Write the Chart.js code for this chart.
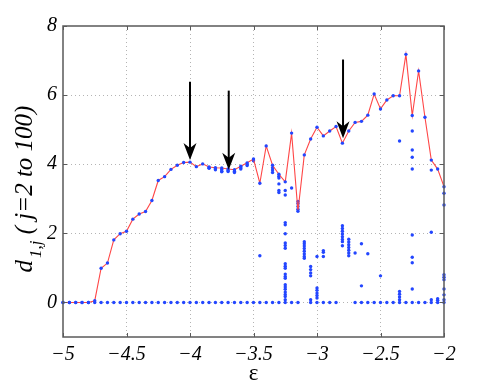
<!DOCTYPE html>
<html><head><meta charset="utf-8">
<script src="https://cdn.jsdelivr.net/npm/chart.js@4"></script>
<style>html,body{margin:0;padding:0;background:#fff}</style>
</head><body>
<canvas id="c" width="491" height="382"></canvas>
<script>
// ---- data ----
const epsilon = [-5.00,-4.95,-4.90,-4.85,-4.80,-4.75,-4.70,-4.65,-4.60,-4.55,-4.50,-4.45,-4.40,-4.35,-4.30,-4.25,-4.20,-4.15,-4.10,-4.05,-4.00,-3.95,-3.90,-3.85,-3.80,-3.75,-3.70,-3.65,-3.60,-3.55,-3.50,-3.45,-3.40,-3.35,-3.30,-3.25,-3.20,-3.15,-3.10,-3.05,-3.00,-2.95,-2.90,-2.85,-2.80,-2.75,-2.70,-2.65,-2.60,-2.55,-2.50,-2.45,-2.40,-2.35,-2.30,-2.25,-2.20,-2.15,-2.10,-2.05,-2.00];
const maxD = [0,0,0,0,0,0.05,0.99,1.14,1.81,1.99,2.06,2.41,2.56,2.63,2.95,3.53,3.64,3.85,3.97,4.05,4.06,3.93,4.01,3.92,3.90,3.89,3.86,3.84,3.94,4.04,4.15,3.45,4.53,3.97,3.71,3.49,4.90,2.64,4.27,4.73,5.07,4.82,4.96,5.09,4.61,4.96,5.21,5.24,5.42,6.03,5.60,5.86,5.98,5.98,7.18,5.41,6.70,5.36,4.12,3.86,3.35];
const zeroEps = [-5.00,-4.95,-4.90,-4.85,-4.80,-4.75,-4.70,-4.65,-4.60,-4.55,-4.50,-4.45,-4.40,-4.35,-4.30,-4.25,-4.20,-4.15,-4.10,-4.05,-4.00,-3.95,-3.90,-3.85,-3.80,-3.75,-3.70,-3.65,-3.60,-3.55,-3.50,-3.45,-3.40,-3.35,-3.30,-3.25,-3.20,-3.15,-3.05,-3.00,-2.95,-2.90,-2.85,-2.70,-2.65,-2.60,-2.55,-2.50,-2.45,-2.40,-2.35,-2.30,-2.25,-2.20,-2.15,-2.10,-2.05,-2.00];
const spreadEps = [
 -3.85,-3.85,-3.80,-3.80,-3.75,-3.75,-3.75,-3.70,-3.70,-3.65,-3.65,-3.60,-3.60,-3.55,-3.55,-3.50,
 -3.45,-3.35,-3.35,-3.35,-3.30,-3.30,-3.30,-3.30,-3.30,
 -3.25,-3.25,-3.25,-3.25,-3.25,-3.25,-3.25,-3.25,-3.25,-3.25,-3.25,-3.25,-3.25,-3.25,-3.25,-3.25,-3.25,-3.25,-3.25,-3.25,-3.25,
 -3.20,-3.15,-3.15,-3.15,-3.15,
 -3.10,-3.10,-3.10,-3.10,-3.10,-3.10,-3.10,-3.10,
 -3.05,-3.05,-3.05,-3.05,-3.05,
 -3.00,-3.00,-3.00,-3.00,-3.00,-3.00,
 -2.95,-2.95,-2.95,
 -2.80,-2.80,-2.80,-2.80,-2.80,-2.80,-2.80,-2.80,
 -2.75,-2.75,-2.75,-2.75,-2.75,-2.75,-2.75,
 -2.70,-2.65,-2.65,-2.60,-2.50,
 -2.35,-2.35,-2.35,-2.35,-2.35,
 -2.25,-2.25,-2.25,-2.25,-2.25,-2.25,-2.25,-2.25,
 -2.10,-2.10,-2.10,-2.05,-2.05,
 -2.00,-2.00,-2.00,-2.00,-2.00,-2.00,-2.00,-2.00];
const spreadD = [
 3.90,3.88,3.87,3.84,3.85,3.80,3.78,3.82,3.79,3.80,3.76,3.90,3.86,4.00,3.96,4.10,
 1.35,3.90,3.83,3.76,3.65,3.60,3.43,3.24,3.18,
 3.24,3.11,2.31,2.25,1.99,1.72,1.65,1.57,1.12,1.05,0.99,0.82,0.75,0.70,0.51,0.45,0.38,0.30,0.23,0.17,0.08,
 3.31,2.70,2.78,2.86,2.92,
 1.76,1.70,1.63,1.56,1.48,1.40,1.33,1.28,
 1.04,0.95,0.85,0.77,0.08,
 1.33,0.42,0.35,0.27,0.20,0.13,
 1.50,1.45,1.33,
 2.22,2.14,2.06,1.98,1.90,1.82,1.76,1.64,
 1.83,1.75,1.67,1.59,1.51,1.43,1.35,
 1.43,1.70,0.48,1.41,0.77,
 4.67,0.32,0.24,0.16,0.08,
 4.96,4.41,4.20,3.86,1.95,1.31,1.15,0.39,
 3.83,2.03,0.08,0.11,0.06,
 3.16,2.82,0.80,0.73,0.66,0.39,0.22,0.08];
const arrowEps = [-4.00,-3.695,-2.795];
const arrowTop = [6.39,6.13,7.03];
const arrowTip = [4.12,3.84,4.75];
const xTicks = [-5,-4.5,-4,-3.5,-3,-2.5,-2];
const yTicks = [0,2,4,6,8];

const BLUE = 'rgb(35,70,255)';
const RED = 'rgb(255,70,70)';
const SERIF = '"Liberation Serif","DejaVu Serif",serif';

const extras = {
  id: 'extras',
  afterDraw(chart) {
    const {ctx, chartArea: a, scales: {x, y}} = chart;
    ctx.save();
    // box
    ctx.strokeStyle = '#5a5a5a';
    ctx.lineWidth = 1.5;
    ctx.strokeRect(a.left, a.top, a.right - a.left, a.bottom - a.top);
    // inner tick marks
    ctx.lineWidth = 1;
    ctx.beginPath();
    xTicks.forEach(v => {
      const px = Math.round(x.getPixelForValue(v)) + 0.5;
      ctx.moveTo(px, a.bottom); ctx.lineTo(px, a.bottom - 4);
      ctx.moveTo(px, a.top); ctx.lineTo(px, a.top + 4);
    });
    yTicks.forEach(v => {
      const py = Math.round(y.getPixelForValue(v)) + 0.5;
      ctx.moveTo(a.left, py); ctx.lineTo(a.left + 4, py);
      ctx.moveTo(a.right, py); ctx.lineTo(a.right - 4, py);
    });
    ctx.stroke();
    // arrows
    ctx.fillStyle = '#000';
    ctx.strokeStyle = '#000';
    arrowEps.forEach((e, i) => {
      const px = x.getPixelForValue(e);
      const pt = y.getPixelForValue(arrowTop[i]);
      const pb = y.getPixelForValue(arrowTip[i]);
      ctx.lineWidth = 2;
      ctx.beginPath();
      ctx.moveTo(px, pt); ctx.lineTo(px, pb - 8);
      ctx.stroke();
      ctx.beginPath();
      ctx.moveTo(px, pb);
      ctx.lineTo(px - 6.5, pb - 17);
      ctx.lineTo(px, pb - 12);
      ctx.lineTo(px + 6.5, pb - 17);
      ctx.closePath();
      ctx.fill();
    });
    // x title
    ctx.fillStyle = '#000';
    ctx.font = '23px ' + SERIF;
    ctx.textAlign = 'center';
    ctx.textBaseline = 'alphabetic';
    ctx.fillText('ε', (a.left + a.right) / 2, 380);
    // y title with subscript
    ctx.translate(32, 190);
    ctx.rotate(-Math.PI / 2);
    const mainF = 'italic 25px ' + SERIF;
    const subF = 'italic 17px ' + SERIF;
    ctx.font = mainF; const w1 = ctx.measureText('d').width;
    ctx.font = subF; const w2 = ctx.measureText('1,j').width;
    ctx.font = mainF; const w3 = ctx.measureText(' ( j=2 to 100)').width;
    let sx = -(w1 + w2 + w3) / 2;
    ctx.textAlign = 'left';
    ctx.font = mainF; ctx.fillText('d', sx, 0); sx += w1 + 2;
    ctx.font = subF; ctx.fillText('1,j', sx, 9); sx += w2;
    ctx.font = mainF; ctx.fillText(' ( j=2 to 100)', sx, 0);
    ctx.restore();
  }
};

const gridColor = (edgeVals) => (c) => edgeVals.includes(c.tick.value) ? 'rgba(0,0,0,0)' : '#b4b4b4';

new Chart(document.getElementById('c'), {
  type: 'scatter',
  data: {
    datasets: [
      { label: 'max', type: 'line', data: epsilon.map((e, i) => ({x: e, y: maxD[i]})),
        borderColor: RED, borderWidth: 1.1, pointRadius: 1.7, pointBackgroundColor: BLUE,
        pointBorderWidth: 0, tension: 0, clip: false, showLine: true },
      { label: 'spread', data: spreadEps.map((e, i) => ({x: e, y: spreadD[i]})),
        pointRadius: 1.7, pointBackgroundColor: BLUE, pointBorderWidth: 0, clip: false },
      { label: 'zero', data: zeroEps.map(e => ({x: e, y: 0})),
        pointRadius: 1.7, pointBackgroundColor: BLUE, pointBorderWidth: 0, clip: false }
    ]
  },
  options: {
    responsive: false,
    animation: false,
    events: [],
    layout: { padding: { left: 0, right: 47, top: 26, bottom: 0 } },
    plugins: { legend: { display: false }, tooltip: { enabled: false } },
    scales: {
      x: {
        type: 'linear', min: -5, max: -2,
        afterBuildTicks: s => { s.ticks = xTicks.map(v => ({value: v})); },
        afterFit: s => { s.height = 45; },
        grid: { color: gridColor([-5, -2]), drawTicks: false, lineWidth: 1 },
        border: { display: false, dash: [1, 3] },
        ticks: { color: '#000', padding: 6, maxRotation: 0, font: { family: SERIF, size: 20, style: 'italic' },
                 callback: v => String(v).replace('-', '\u2212') }
      },
      y: {
        type: 'linear', min: -1, max: 8,
        afterBuildTicks: s => { s.ticks = yTicks.map(v => ({value: v})); },
        afterFit: s => { s.width = 63; },
        grid: { color: gridColor([8]), drawTicks: false, lineWidth: 1 },
        border: { display: false, dash: [1, 3] },
        ticks: { color: '#000', padding: 6, font: { family: SERIF, size: 20, style: 'italic' },
                 callback: v => String(v) }
      }
    }
  },
  plugins: [extras]
});
</script>
</body></html>
